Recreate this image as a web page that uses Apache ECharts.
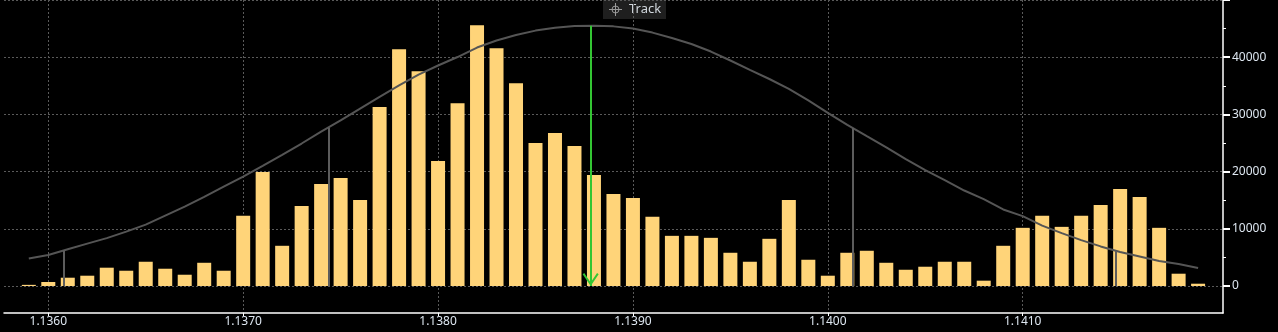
<!DOCTYPE html>
<html>
<head>
<meta charset="utf-8">
<script src="https://cdn.jsdelivr.net/npm/echarts@6/dist/echarts.min.js"></script>
<style>
html,body{margin:0;padding:0;background:#000;}
#c{width:1278px;height:332px;}
</style>
</head>
<body>
<div id="c"></div>
<script>
// ---- data ----
const prices = [
  1.1359, 1.1360, 1.1361, 1.1362, 1.1363, 1.1364, 1.1365, 1.1366, 1.1367, 1.1368, 1.1369,
  1.1370, 1.1371, 1.1372, 1.1373, 1.1374, 1.1375, 1.1376, 1.1377, 1.1378, 1.1379,
  1.1380, 1.1381, 1.1382, 1.1383, 1.1384, 1.1385, 1.1386, 1.1387, 1.1388, 1.1389,
  1.1390, 1.1391, 1.1392, 1.1393, 1.1394, 1.1395, 1.1396, 1.1397, 1.1398, 1.1399,
  1.1400, 1.1401, 1.1402, 1.1403, 1.1404, 1.1405, 1.1406, 1.1407, 1.1408, 1.1409,
  1.1410, 1.1411, 1.1412, 1.1413, 1.1414, 1.1415, 1.1416, 1.1417, 1.1418, 1.1419
];
const volumes = [
  200, 700, 1450, 1800, 3200, 2670, 4240, 3020, 1970, 4060, 2670,
  12260, 19940, 7030, 14000, 17840, 18890, 15050, 31280, 41400, 37560,
  21860, 31970, 45580, 41570, 35460, 25000, 26740, 24470, 19410, 16100,
  15400, 12090, 8770, 8770, 8420, 5810, 4240, 8250, 15050, 4590,
  1800, 5810, 6160, 4060, 2840, 3370, 4240, 4240, 930, 7030,
  10170, 12260, 10340, 12260, 14180, 16970, 15580, 10170, 2150, 400
];
const curveValues = [
  4800, 5410, 6420, 7410, 8370, 9510, 10730, 12300, 13870, 15580, 17360,
  19130, 21020, 22940, 24910, 26980, 28960, 31010, 33050, 35060, 36950,
  38550, 40030, 41690, 42910, 43870, 44650, 45130, 45470, 45520, 45390,
  45000, 44300, 43350, 42300, 40990, 39420, 37800, 36190, 34450, 32450,
  30260, 28170, 26200, 24250, 22190, 20270, 18490, 16690, 15180, 13380,
  12210, 10550, 9240, 8020, 6920, 5930, 5150, 4360, 3840, 3140
];
const xTickValues = [1.1360, 1.1370, 1.1380, 1.1390, 1.1400, 1.1410];
const yTickValues = [0, 10000, 20000, 30000, 40000, 50000];
const yLabelValues = [0, 10000, 20000, 30000, 40000];
const yMinorTickValues = [5000, 15000, 25000, 35000, 45000];
const sigmaPrices = [1.13608, 1.13744, 1.14013, 1.14148];
const sigmaHeights = [6230, 27730, 27610, 6160];
const meanPrice = 1.138783;
const meanHeight = 45500;
const trackLabel = 'Track';

// ---- chart ----
const labelColor = '#dde6f0';
const font = '"Noto Sans", "DejaVu Sans", sans-serif';
const chart = echarts.init(document.getElementById('c'), null, {renderer: 'canvas'});

const chevron = 'path://M8,0 L16,11.5 L14.4,12.8 L8,3.4 L1.6,12.8 L0,11.5 Z';

chart.setOption({
  backgroundColor: '#000',
  animation: false,
  grid: {left: 4, right: 55, top: 0, bottom: 19, containLabel: false},
  xAxis: {
    type: 'value',
    min: 1.1357727,
    max: 1.1420278,
    axisLine: {show: true, onZero: false, lineStyle: {color: '#ffffff', width: 1.5}},
    axisTick: {show: true, length: 3, customValues: xTickValues, lineStyle: {color: '#ffffff'}},
    axisLabel: {
      customValues: xTickValues, margin: 3, color: labelColor, fontFamily: font, fontSize: 12,
      formatter: v => Number(v).toFixed(4)
    },
    splitLine: {show: true, lineStyle: {color: '#5a5a5a', type: [2, 2], width: 1}}
  },
  yAxis: [{
    type: 'value',
    position: 'right',
    min: -4720,
    max: 50000,
    axisLine: {show: true, lineStyle: {color: '#ffffff', width: 1.5}},
    axisTick: {show: true, length: 7, customValues: yTickValues, lineStyle: {color: '#ffffff', width: 2}},
    axisLabel: {
      customValues: yLabelValues, margin: 9, color: labelColor, fontFamily: font, fontSize: 12,
      formatter: v => String(v)
    },
    splitLine: {show: true, lineStyle: {color: '#5a5a5a', type: [2, 2], width: 1}}
  }, {
    type: 'value',
    position: 'right',
    min: -4720,
    max: 50000,
    axisLine: {show: false},
    axisTick: {show: true, length: 3, customValues: yMinorTickValues, lineStyle: {color: '#ffffff', width: 1}},
    axisLabel: {show: false},
    splitLine: {show: false}
  }],
  graphic: [{
    type: 'group',
    left: 603,
    top: 0,
    children: [
      {type: 'rect', shape: {x: 0, y: 0, width: 63, height: 19}, style: {fill: '#1f1f1f'}},
      {type: 'circle', shape: {cx: 12.5, cy: 9.5, r: 3.5}, style: {fill: 'none', stroke: '#9a9a9a', lineWidth: 1}},
      {type: 'line', shape: {x1: 6, y1: 9.5, x2: 19, y2: 9.5}, style: {stroke: '#9a9a9a', lineWidth: 1}},
      {type: 'line', shape: {x1: 12.5, y1: 3, x2: 12.5, y2: 16}, style: {stroke: '#9a9a9a', lineWidth: 1}},
      {type: 'text', x: 26, y: 9.5, style: {text: trackLabel, fill: '#d0d6dc', font: '13px ' + font, verticalAlign: 'middle', align: 'left'}}
    ]
  }],
  series: [{
    type: 'bar',
    name: 'volume',
    yAxisIndex: 0,
    barWidth: 14,
    itemStyle: {color: '#FFD479'},
    data: prices.map((p, i) => [p, volumes[i]]),
    z: 2
  }, {
    type: 'line',
    name: 'fit',
    yAxisIndex: 0,
    symbol: 'none',
    lineStyle: {color: '#555555', width: 2},
    data: prices.map((p, i) => [p, curveValues[i]]),
    z: 3,
    markLine: {
      silent: true,
      symbol: ['none', 'none'],
      label: {show: false},
      lineStyle: {color: '#5c5c5c', width: 2, type: 'solid'},
      data: sigmaPrices.map((p, i) => [{coord: [p, sigmaHeights[i]]}, {coord: [p, 0]}])
    }
  }, {
    type: 'line',
    name: 'mean',
    yAxisIndex: 0,
    data: [],
    z: 4,
    markLine: {
      silent: true,
      symbol: ['none', chevron],
      symbolSize: [16, 13],
      symbolOffset: [0, [0, 6.5]],
      label: {show: false},
      lineStyle: {color: '#33c633', width: 2, type: 'solid'},
      data: [[{coord: [meanPrice, meanHeight]}, {coord: [meanPrice, 0]}]]
    }
  }]
});
</script>
</body>
</html>
